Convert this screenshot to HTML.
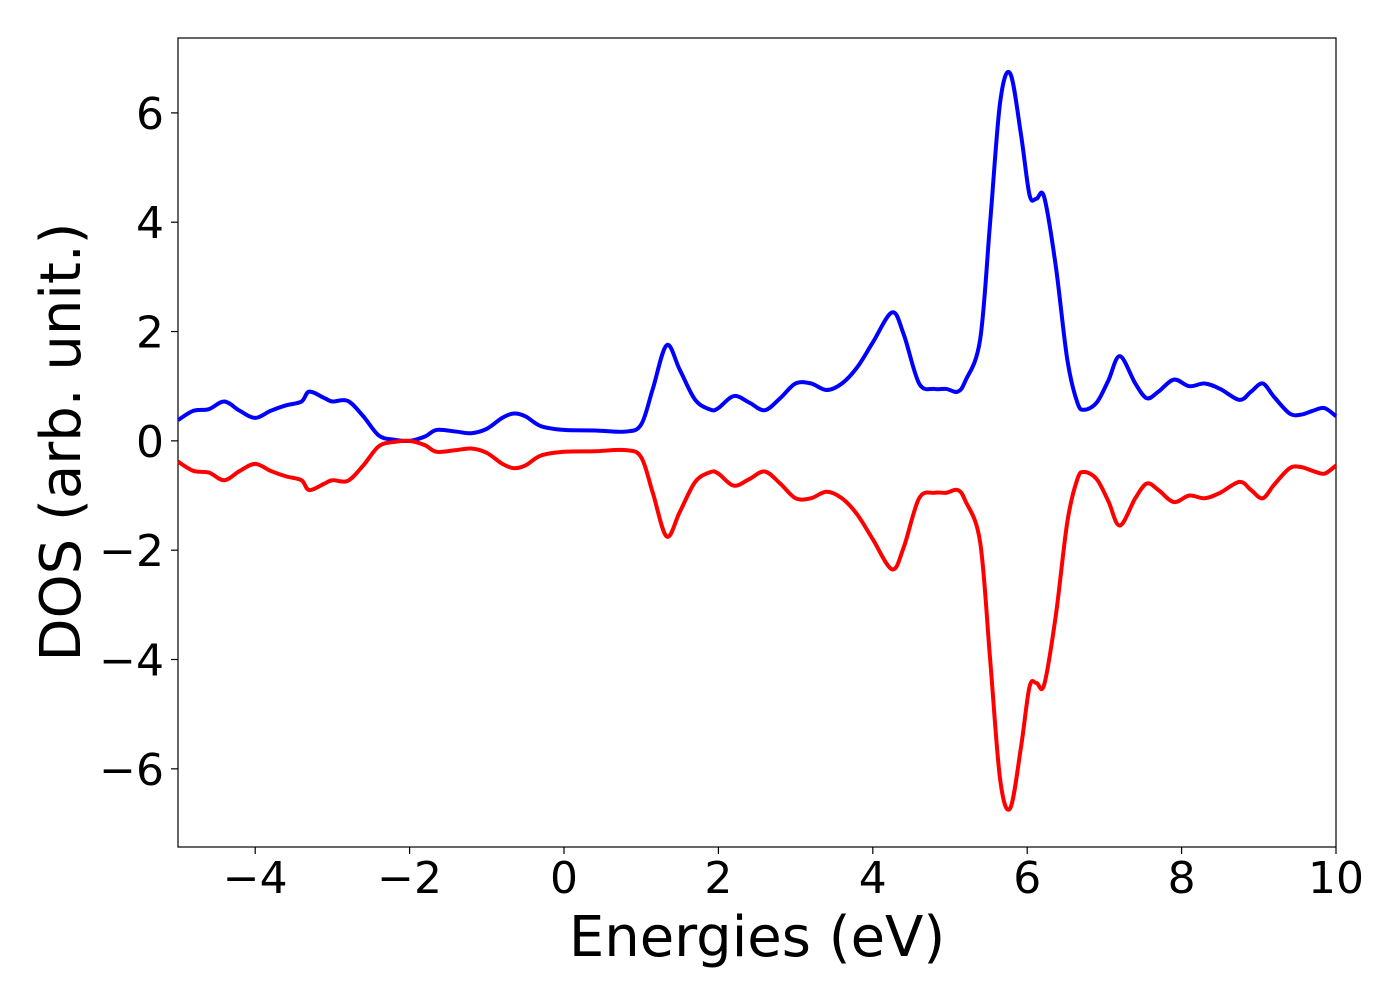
<!DOCTYPE html>
<html><head><meta charset="utf-8"><style>
body{margin:0;background:#fff;}
svg text{font-family:"DejaVu Sans","Liberation Sans",sans-serif;fill:#000;}
</style></head><body>
<svg id="chart" width="1400" height="1000" xmlns="http://www.w3.org/2000/svg">
<rect x="178" y="38" width="1158" height="809" fill="#fff" stroke="#000" stroke-width="1.2"/>
<g id="series"></g>
<g id="axes"></g>
<text x="757" y="956" font-size="56" text-anchor="middle">Energies (eV)</text>
<text transform="translate(80,442) rotate(-90)" font-size="56" text-anchor="middle">DOS (arb. unit.)</text>
</svg>
<script>
const energies=[-5,-4.8,-4.6,-4.4,-4.2,-4.0,-3.8,-3.6,-3.4,-3.3,-3.1,-3.0,-2.8,-2.6,-2.4,-2.2,-2.0,-1.8,-1.65,-1.4,-1.2,-1.0,-0.8,-0.65,-0.5,-0.3,0,0.4,0.8,1.0,1.15,1.33,1.5,1.7,1.9,2.0,2.2,2.4,2.6,2.8,3.0,3.2,3.4,3.6,3.8,4.0,4.25,4.4,4.6,4.8,4.95,5.1,5.2,5.39,5.52,5.65,5.78,5.92,6.03,6.12,6.22,6.37,6.52,6.65,6.74,6.9,7.05,7.2,7.4,7.55,7.7,7.9,8.1,8.3,8.5,8.75,8.9,9.05,9.2,9.4,9.55,9.7,9.85,10];
const dosUp=[0.38,0.55,0.58,0.72,0.55,0.42,0.55,0.65,0.72,0.9,0.78,0.72,0.73,0.45,0.1,0.02,0.0,0.08,0.2,0.17,0.14,0.22,0.42,0.5,0.45,0.27,0.2,0.19,0.17,0.3,0.95,1.75,1.3,0.75,0.57,0.6,0.82,0.7,0.56,0.78,1.05,1.05,0.93,1.05,1.35,1.8,2.35,1.95,1.05,0.95,0.95,0.9,1.1,1.85,4.0,6.2,6.72,5.6,4.5,4.43,4.46,3.2,1.48,0.7,0.57,0.7,1.1,1.55,1.05,0.78,0.9,1.12,1.0,1.05,0.95,0.75,0.9,1.05,0.8,0.5,0.48,0.55,0.6,0.45];
const dosDown=[-0.38,-0.55,-0.58,-0.72,-0.55,-0.42,-0.55,-0.65,-0.72,-0.9,-0.78,-0.72,-0.73,-0.45,-0.1,-0.02,0.0,-0.08,-0.2,-0.17,-0.14,-0.22,-0.42,-0.5,-0.45,-0.27,-0.2,-0.19,-0.17,-0.3,-0.95,-1.75,-1.3,-0.75,-0.57,-0.6,-0.82,-0.7,-0.56,-0.78,-1.05,-1.05,-0.93,-1.05,-1.35,-1.8,-2.35,-1.95,-1.05,-0.95,-0.95,-0.9,-1.1,-1.85,-4.0,-6.2,-6.72,-5.6,-4.5,-4.43,-4.46,-3.2,-1.48,-0.7,-0.57,-0.7,-1.1,-1.55,-1.05,-0.78,-0.9,-1.12,-1.0,-1.05,-0.95,-0.75,-0.9,-1.05,-0.8,-0.5,-0.48,-0.55,-0.6,-0.45];
const xTicks=[-4,-2,0,2,4,6,8,10];
const yTicks=[-6,-4,-2,0,2,4,6];
const NS="http://www.w3.org/2000/svg";
const X0=178,X1=1336,Y0=38,Y1=847,xmin=-5,xmax=10,ymin=-7.43,ymax=7.37;
function sx(v){return X0+(v-xmin)/(xmax-xmin)*(X1-X0);}
function sy(v){return Y1-(v-ymin)/(ymax-ymin)*(Y1-Y0);}
function mk(t,a,p){const e=document.createElementNS(NS,t);for(const k in a)e.setAttribute(k,a[k]);p.appendChild(e);return e;}
function pathFor(xs,ys){const P=xs.map((x,i)=>[sx(x),sy(ys[i])]);let d="M"+P[0][0]+","+P[0][1];
for(let i=0;i<P.length-1;i++){const p0=P[Math.max(0,i-1)],p1=P[i],p2=P[i+1],p3=P[Math.min(P.length-1,i+2)];
const c1=[p1[0]+(p2[0]-p0[0])/6,p1[1]+(p2[1]-p0[1])/6],c2=[p2[0]-(p3[0]-p1[0])/6,p2[1]-(p3[1]-p1[1])/6];
d+=` C${c1[0]},${c1[1]} ${c2[0]},${c2[1]} ${p2[0]},${p2[1]}`;}return d;}
const sg=document.getElementById('series');
const up=mk('path',{d:pathFor(energies,dosUp),fill:'none',stroke:'#0000ff','stroke-width':4},sg);


const dn=mk('path',{d:pathFor(energies,dosDown),fill:'none',stroke:'#ff0000','stroke-width':4},sg);


const ag=document.getElementById('axes');
xTicks.forEach(t=>{const x=sx(t);
const l=mk('line',{x1:x,x2:x,y1:Y1,y2:Y1+7,stroke:'#000','stroke-width':1.2},ag);


const tx=mk('text',{x:x,y:893,'font-size':44,'text-anchor':'middle'},ag);tx.textContent=t<0?'\u2212'+(-t):String(t);

});
yTicks.forEach(t=>{const y=sy(t);
const l=mk('line',{x1:X0-7,x2:X0,y1:y,y2:y,stroke:'#000','stroke-width':1.2},ag);


const tx=mk('text',{x:164,y:y+16,'font-size':44,'text-anchor':'end'},ag);tx.textContent=t<0?'\u2212'+(-t):String(t);

});
</script>
</body></html>
